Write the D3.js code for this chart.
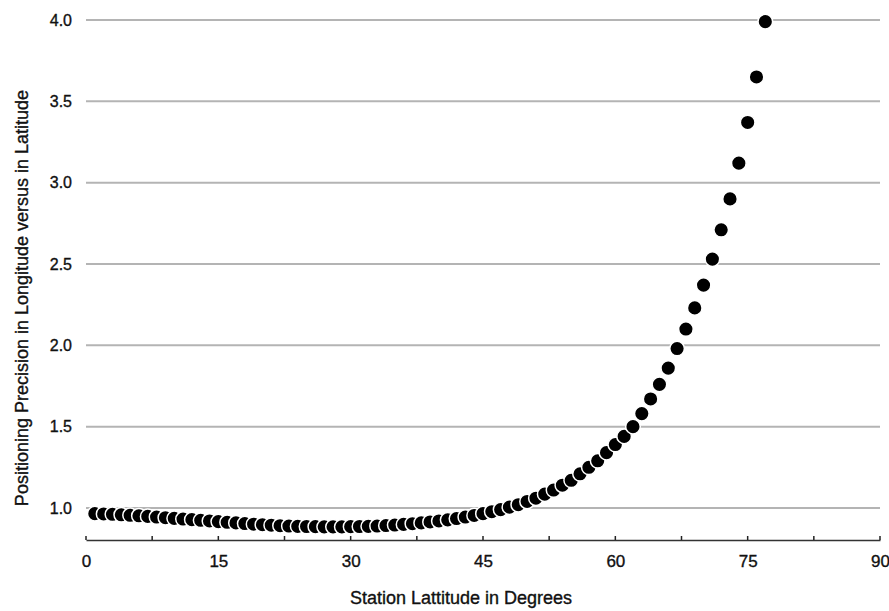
<!DOCTYPE html>
<html>
<head>
<meta charset="utf-8">
<script src="https://cdn.jsdelivr.net/npm/d3@7"></script>
<style>
  body { margin: 0; background: #fff; }
  text { font-family: "Liberation Sans", Arial, sans-serif; fill: #111; stroke: #111; stroke-width: 0.35px; }
</style>
</head>
<body>
<div id="chart"></div>
<script>
// latitude in degrees, one point per degree
var latitudes = d3.range(1, 78);

// precision ratio
var precision = [
  0.965, 0.963, 0.961, 0.958, 0.955, 0.952, 0.948, 0.944, 0.940, 0.936,
  0.932, 0.928, 0.924, 0.920, 0.916, 0.912, 0.908, 0.904, 0.900, 0.897,
  0.894, 0.891, 0.889, 0.887, 0.886, 0.885, 0.884, 0.884, 0.884, 0.885,
  0.886, 0.887, 0.889, 0.892, 0.895, 0.899, 0.903, 0.908, 0.914, 0.920,
  0.927, 0.935, 0.944, 0.954, 0.965, 0.977, 0.990, 1.005, 1.020, 1.040,
  1.060, 1.085, 1.110, 1.140, 1.170, 1.210, 1.250, 1.290, 1.340, 1.390,
  1.440, 1.500, 1.580, 1.670, 1.760, 1.860, 1.980, 2.100, 2.230, 2.370,
  2.530, 2.710, 2.900, 3.120, 3.370, 3.650, 3.990
];

var xTicks = [0, 15, 30, 45, 60, 75, 90];
var xMinorTicks = d3.range(0, 90.1, 7.5);
var yTicks = [1.0, 1.5, 2.0, 2.5, 3.0, 3.5, 4.0];

var svgWidth = 889;
var svgHeight = 611;

var margin = {top: 20, right: 9, bottom: 71, left: 86};
var width = svgWidth - margin.left - margin.right;
var height = svgHeight - margin.top - margin.bottom;

var svg = d3.select("#chart")
  .append("svg")
  .attr("width", svgWidth)
  .attr("height", svgHeight);

var chartGroup = svg.append("g")
  .attr("transform", `translate(${margin.left},${margin.top})`);

var xScale = d3.scaleLinear().domain([0, 90]).range([0, width]);
var yScale = d3.scaleLinear().domain([0.803, 4.0]).range([height, 0]);

// gridlines
chartGroup.selectAll(".grid")
  .data(yTicks)
  .enter()
  .append("line")
  .attr("x1", 0)
  .attr("x2", width)
  .attr("y1", d => yScale(d))
  .attr("y2", d => yScale(d))
  .attr("stroke", "#b4b4b4")
  .attr("stroke-width", 2);

// y tick labels
chartGroup.selectAll(".ylab")
  .data(yTicks)
  .enter()
  .append("text")
  .attr("x", -14)
  .attr("y", d => yScale(d))
  .attr("dy", "0.35em")
  .attr("text-anchor", "end")
  .attr("font-size", "16px")
  .text(d => d.toFixed(1));

// x axis
var bottomAxis = d3.axisBottom(xScale)
  .tickValues(xTicks)
  .tickSize(0)
  .tickPadding(15);

var xAxis = chartGroup.append("g")
  .attr("transform", `translate(0, ${height})`)
  .call(bottomAxis);

xAxis.select(".domain").attr("stroke", "#333").attr("stroke-width", 1.5);
xAxis.selectAll("text")
  .attr("font-size", "17px")
  .attr("fill", "#111")
  .style("font-family", "'Liberation Sans', Arial, sans-serif");

xAxis.selectAll(".minor")
  .data(xMinorTicks)
  .enter()
  .append("line")
  .attr("x1", d => xScale(d))
  .attr("x2", d => xScale(d))
  .attr("y1", 0)
  .attr("y2", -4)
  .attr("stroke", "#222")
  .attr("stroke-width", 1.5);

// points, later ones drawn on top with white outline
chartGroup.selectAll("circle")
  .data(latitudes)
  .enter()
  .append("circle")
  .attr("cx", d => xScale(d))
  .attr("cy", (d, i) => yScale(precision[i]))
  .attr("r", 7.3)
  .attr("fill", "#000")
  .attr("stroke", "#fff")
  .attr("stroke-width", 1.5);

// axis labels
chartGroup.append("text")
  .attr("transform", `translate(${width / 2 - 22}, ${height + 64})`)
  .attr("text-anchor", "middle")
  .attr("font-size", "18px")
  .text("Station Lattitude in Degrees");

chartGroup.append("text")
  .attr("transform", `translate(${-58}, 278) rotate(-90)`)
  .attr("text-anchor", "middle")
  .attr("font-size", "18px")
  .text("Positioning Precision in Longitude versus in Latitude");
</script>
</body>
</html>
